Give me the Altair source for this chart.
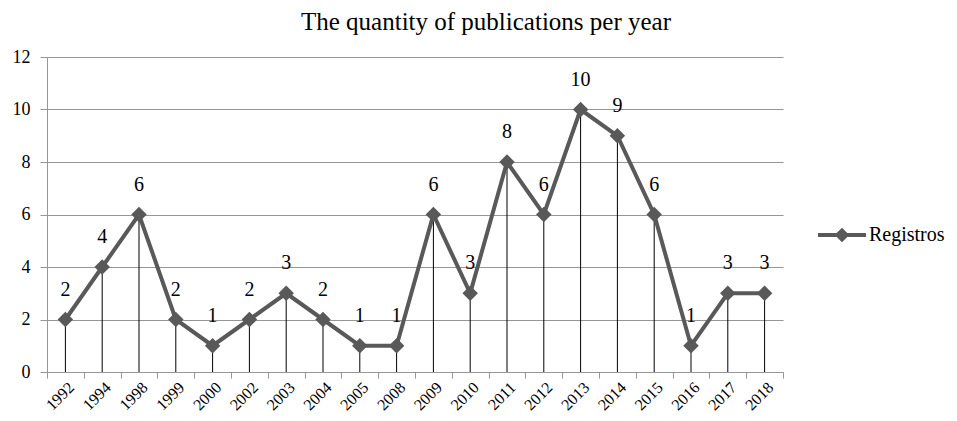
import altair as alt
import pandas as pd

years = ["1992", "1994", "1998", "1999", "2000", "2002", "2003", "2004", "2005", "2008",
         "2009", "2010", "2011", "2012", "2013", "2014", "2015", "2016", "2017", "2018"]
counts = [2, 4, 6, 2, 1, 2, 3, 2, 1, 1, 6, 3, 8, 6, 10, 9, 6, 1, 3, 3]
series_name = "Registros"
y_ticks = [0, 2, 4, 6, 8, 10, 12]

df = pd.DataFrame({"year": years, "count": counts, "series": [series_name] * len(years)})

FONT = "'Liberation Serif', 'Times New Roman', 'DejaVu Serif', serif"
GRAY = "#595959"
GRID = "#969696"

x_enc = alt.X(
    "year:O", sort=years,
    scale=alt.Scale(type="band", paddingInner=0, paddingOuter=0),
    axis=alt.Axis(title=None, labelAngle=-45, tickBand="extent", labelFont=FONT,
                  labelFontSize=16, labelColor="black", domainColor=GRID, tickColor=GRID,
                  tickSize=6, labelPadding=1, grid=False),
)
y_enc = alt.Y(
    "count:Q",
    scale=alt.Scale(domain=[0, 12], nice=False),
    axis=alt.Axis(title=None, values=y_ticks, labelFont=FONT, labelFontSize=18,
                  labelColor="black", domainColor=GRID, tickColor=GRID, tickSize=7,
                  labelPadding=10, grid=True, gridColor=GRID, gridWidth=1),
)

base = alt.Chart(df)

rules = base.mark_rule(color="black", strokeWidth=1).encode(x=x_enc, y=y_enc, y2=alt.datum(0))
line = base.mark_line(color=GRAY, strokeWidth=4).encode(x=x_enc, y=y_enc)
points = base.mark_point(shape="diamond", size=240, filled=True, opacity=1).encode(
    x=x_enc, y=y_enc,
    color=alt.Color("series:N", scale=alt.Scale(range=[GRAY]),
                    legend=alt.Legend(title=None, orient="none", legendX=783, legendY=166,
                                      padding=0,
                                      symbolType="M-2.4,0L2.4,0M-0.45,0L0,-0.45L0.45,0L0,0.45Z",
                                      symbolSize=400, symbolStrokeWidth=4,
                                      symbolStrokeColor=GRAY, symbolFillColor=GRAY,
                                      labelFont=FONT, labelFontSize=20, labelColor="black",
                                      labelOffset=15)),
)
labels = base.mark_text(dy=-30, fontSize=20, font=FONT, color="black").encode(
    x=x_enc, y=y_enc, text="count:Q"
)

chart = alt.layer(rules, line, points, labels).properties(
    width=736, height=315,
    padding={"left": 39, "top": 49, "right": 166, "bottom": 41},
    autosize=alt.AutoSizeParams(type="none"),
    title=alt.Title("The quantity of publications per year", font=FONT, fontSize=25,
                    fontWeight="normal", color="black", dx=71, offset=13),
).configure_view(stroke=None)

chart.save("out.html", embed_options={"renderer": "svg", "actions": False})
